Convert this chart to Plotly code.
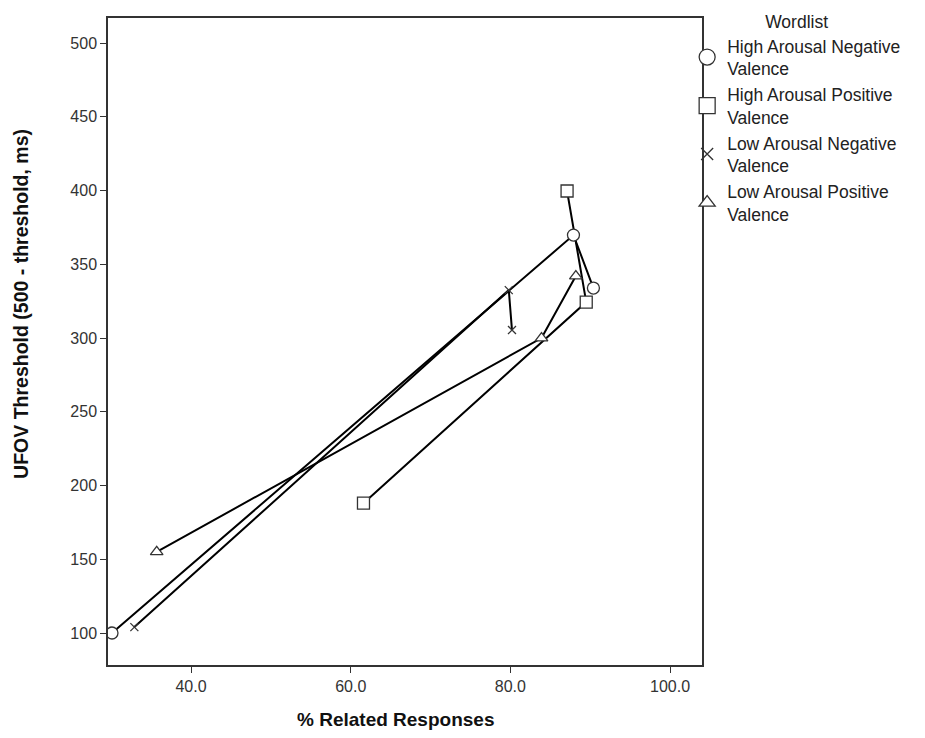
import plotly.graph_objects as go

series_names = ["High Arousal Negative<br>Valence", "High Arousal Positive<br>Valence",
                "Low Arousal Negative<br>Valence", "Low Arousal Positive<br>Valence"]
symbols = ["circle", "square", "x-thin", "triangle-up"]

han_x = [30.1, 87.9, 90.4]
han_y = [100, 369.8, 333.9]
hap_x = [61.6, 89.5, 87.1]
hap_y = [188, 324.4, 399.7]
lan_x = [32.9, 79.8, 80.2]
lan_y = [104, 332.5, 305.4]
lap_x = [35.7, 83.9, 88.2]
lap_y = [155, 300, 342]

xs = [han_x, hap_x, lan_x, lap_x]
ys = [han_y, hap_y, lan_y, lap_y]
sizes = [12, 12, 8, 11]
legend_sizes = [16, 16, 12, 14]

x_ticks = [40, 60, 80, 100]
y_ticks = [100, 150, 200, 250, 300, 350, 400, 450, 500]

INK = "#333333"

fig = go.Figure()
# connecting lines first
for x, y in zip(xs, ys):
    fig.add_trace(go.Scatter(x=x, y=y, mode="lines", line=dict(color="black", width=2),
                             showlegend=False, hoverinfo="skip"))
# markers
for name, sym, x, y, s in zip(series_names, symbols, xs, ys, sizes):
    fig.add_trace(go.Scatter(x=x, y=y, mode="markers", name=name, showlegend=False,
                             marker=dict(symbol=sym, size=s,
                                         color=INK if sym == "x-thin" else "white",
                                         line=dict(color=INK, width=1.3))))
# legend entries
for name, sym, s in zip(series_names, symbols, legend_sizes):
    fig.add_trace(go.Scatter(x=[None], y=[None], mode="markers", name=name, legendgroup=name,
                             marker=dict(symbol=sym, size=s,
                                         color=INK if sym == "x-thin" else "white",
                                         line=dict(color=INK, width=1.3))))

fig.update_layout(
    width=925, height=738,
    margin=dict(l=100, r=231, t=10, b=81, autoexpand=False),
    paper_bgcolor="white", plot_bgcolor="white",
    font=dict(family="Liberation Sans, Arial, sans-serif", color="#222222"),
    showlegend=True,
    legend=dict(
        x=0.975, y=1.02, xanchor="left", yanchor="top",
        title=dict(text="Wordlist", side="top center", font=dict(size=17.5, color="#222222")),
        font=dict(size=17.5, color="#222222"),
        bgcolor="rgba(0,0,0,0)",
        traceorder="grouped", tracegroupgap=0,
        itemsizing="trace",
    ),
    xaxis=dict(
        range=[29.6, 104], tickvals=x_ticks, tickformat=".1f",
        showgrid=False, zeroline=False,
        showline=True, linecolor=INK, linewidth=1.5, mirror=True,
        ticks="outside", ticklen=6, tickcolor=INK,
        tickfont=dict(size=16, color=INK),
    ),
    yaxis=dict(
        range=[78.3, 517], tickvals=y_ticks,
        showgrid=False, zeroline=False,
        showline=True, linecolor=INK, linewidth=1.5, mirror=True,
        ticks="outside", ticklen=6, tickcolor=INK,
        tickfont=dict(size=16, color=INK),
    ),
    annotations=[
        dict(text="<b>% Related Responses</b>", xref="paper", yref="paper",
             x=0.4832, y=-0.085, xanchor="center", yanchor="middle", showarrow=False,
             font=dict(size=19, color="#111111")),
        dict(text="<b>UFOV Threshold (500 - threshold, ms)</b>", xref="paper", yref="paper",
             x=-0.1465, y=0.558, xanchor="center", yanchor="middle", showarrow=False,
             textangle=-90, font=dict(size=19.5, color="#111111")),
    ],
)

fig.write_html("out.html")
